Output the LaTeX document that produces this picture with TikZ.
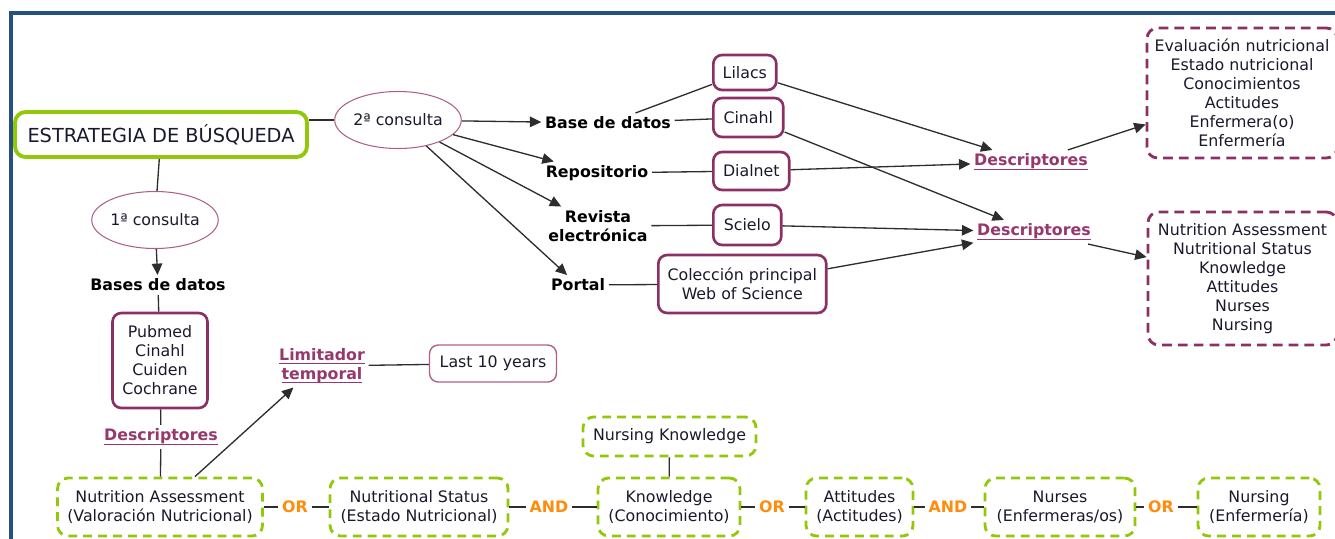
\documentclass[tikz,border=0pt]{standalone}
\usepackage{fontspec}
\setmainfont{DejaVu Sans}
\usetikzlibrary{shapes, positioning, arrows.meta}

\definecolor{limegr}{RGB}{146,200,10}
\definecolor{mauve}{RGB}{140,48,100}
\definecolor{mauvelt}{RGB}{175,95,135}
\definecolor{mauvetxt}{RGB}{150,55,110}
\definecolor{orangeop}{RGB}{255,140,10}
\definecolor{frameblue}{RGB}{40,80,125}
\definecolor{linegr}{RGB}{45,45,45}
\definecolor{txt}{RGB}{25,25,45}

% underline that sits close to the baseline
\newcommand{\linkul}[1]{\underline{\raisebox{0pt}[\height][0.5pt]{#1}}}

\begin{document}
\begin{tikzpicture}[
    x=0.02cm, y=-0.02cm,
    base/.style={
        font=\fontsize{9}{10.8}\selectfont,
        text=txt,
        align=center
    },
    main/.style={
        base,
        rectangle,
        draw=limegr,
        line width=2.2pt,
        rounded corners=6pt,
        minimum width=5.84cm,
        minimum height=0.9cm,
        font=\fontsize{11}{13}\selectfont
    },
    query/.style={
        base,
        ellipse,
        draw=mauvelt,
        line width=0.6pt,
        minimum width=2.3cm,
        minimum height=1.14cm,
        inner sep=0pt
    },
    label_bold/.style={
        base,
        font=\fontsize{9}{10.8}\selectfont\bfseries,
        text=black,
        inner sep=2pt
    },
    desc/.style={
        label_bold,
        text=mauvetxt
    },
    source/.style={
        base,
        rectangle,
        draw=mauve,
        line width=1.5pt,
        rounded corners=5pt,
        anchor=west,
        minimum height=0.7cm
    },
    years/.style={
        base,
        rectangle,
        draw=mauvelt,
        line width=0.8pt,
        rounded corners=5pt,
        minimum width=2.54cm,
        minimum height=0.74cm
    },
    terms/.style={
        base,
        rectangle,
        draw=mauve,
        line width=1.6pt,
        dash pattern=on 5.5pt off 3.5pt,
        rounded corners=6pt
    },
    kw/.style={
        base,
        rectangle,
        draw=limegr,
        line width=1.6pt,
        dash pattern=on 5pt off 3.5pt,
        rounded corners=6pt,
        minimum height=1.16cm
    },
    op/.style={
        font=\fontsize{9}{10.8}\selectfont\bfseries,
        text=orangeop,
        inner sep=2pt
    },
    link/.style={draw=linegr, line width=0.75pt},
    arr/.style={link, -{Triangle[length=6.5pt, width=6pt]}},
    frame/.style={draw=frameblue, line width=2pt}
]

    \useasboundingbox (0,0) rectangle (1335,538);

    % Frame
    \draw[frame] (11,540) -- (11,13) -- (1337,13);

    % Main topic and queries
    \node[main] (estr) at (161,134.5) {ESTRATEGIA DE BÚSQUEDA};
    \node[query] (q2) at (398,120) {2ª consulta};
    \node[query] (q1) at (155,220) {1ª consulta};

    % First query
    \node[label_bold] (bases) at (158,285) {Bases de datos};
    \node[source, anchor=center, minimum width=1.9cm, minimum height=1.9cm] (pubmed) at (160,360.5) {Pubmed\\Cinahl\\Cuiden\\Cochrane};
    \node[desc] (desc0) at (161,437) {\linkul{Descriptores}};
    \node[desc] (limit) at (322,366) {\linkul{Limitador}\\\linkul{temporal}};
    \node[years] (last) at (493,363.5) {Last 10 years};

    % Second query
    \node[label_bold] (bdt) at (608,123) {Base de datos};
    \node[label_bold] (repo) at (597,173) {Repositorio};
    \node[label_bold] (revista) at (598,226) {Revista\\electrónica};
    \node[label_bold] (portal) at (578,285) {Portal};

    \node[source, minimum width=1.26cm] (lilacs) at (712,72.5) {Lilacs};
    \node[source, minimum width=1.4cm, minimum height=0.78cm] (cinahl) at (712,117.5) {Cinahl};
    \node[source, minimum width=1.52cm, minimum height=0.76cm] (dialnet) at (712,171) {Dialnet};
    \node[source, minimum width=1.36cm, minimum height=0.8cm] (scielo) at (712,225) {Scielo};
    \node[source, minimum width=3.36cm, minimum height=1.16cm] (wos) at (657,284) {Colección principal\\Web of Science};

    \node[desc] (desc1) at (1031,162) {\linkul{Descriptores}};
    \node[desc] (desc2) at (1034,232) {\linkul{Descriptores}};

    \node[terms, minimum width=3.8cm, minimum height=2.6cm] (es) at (1242,93) {Evaluación nutricional\\Estado nutricional\\Conocimientos\\Actitudes\\Enfermera(o)\\Enfermería};
    \node[terms, minimum width=3.78cm, minimum height=2.66cm] (en) at (1242.5,278.5) {Nutrition Assessment\\Nutritional Status\\Knowledge\\Attitudes\\Nurses\\Nursing};

    % Search terms
    \node[kw, minimum width=4.1cm] (na) at (160,507) {Nutrition Assessment\\(Valoración Nutricional)};
    \node[kw, minimum width=3.56cm] (ns) at (419,507) {Nutritional Status\\(Estado Nutricional)};
    \node[kw, minimum width=2.84cm] (kn) at (669,507) {Knowledge\\(Conocimiento)};
    \node[kw, minimum width=2.14cm] (att) at (859.5,507) {Attitudes\\(Actitudes)};
    \node[kw, minimum width=3.0cm] (nur) at (1060,507) {Nurses\\(Enfermeras/os)};
    \node[kw, minimum width=2.44cm] (nsg) at (1259,507) {Nursing\\(Enfermería)};
    \node[kw, minimum width=3.46cm, minimum height=0.78cm] (nk) at (669.5,436.5) {Nursing Knowledge};

    % Operators
    \node[op] (or1) at (295,507) {OR};
    \node[op] (and1) at (549,507) {AND};
    \node[op] (or2) at (772,507) {OR};
    \node[op] (and2) at (948,507) {AND};
    \node[op] (or3) at (1161,507) {OR};

    % Connectors, first query
    \draw[link] (q2.west -| estr.east) -- (q2.west);
    \draw[link] (estr) -- (q1);
    \draw[arr] (q1) -- (bases);
    \draw[link] (bases) -- (pubmed);
    \draw[link] (pubmed) -- (desc0);
    \draw[link] (desc0) -- (na);
    \draw[arr] (na.41) -- (limit.217);
    \draw[link] (limit) -- (last);

    % Connectors, second query
    \draw[arr] (q2) -- (bdt);
    \draw[arr] (q2) -- (repo);
    \draw[arr] (q2) -- (revista);
    \draw[arr] (q2) -- (portal);
    \draw[link] (bdt.20) -- (lilacs.200);
    \draw[link] (bdt) -- (cinahl);
    \draw[link] (repo) -- (dialnet);
    \draw[link] (revista) -- (scielo);
    \draw[link] (portal) -- (wos);
    \draw[arr] (lilacs) -- (desc1);
    \draw[arr] (dialnet) -- (desc1);
    \draw[arr] (cinahl) -- (desc2);
    \draw[arr] (scielo) -- (desc2);
    \draw[arr] (wos) -- (desc2);
    \draw[arr] (desc1) -- (es);
    \draw[arr] (desc2) -- (en);

    % Connectors, search terms
    \draw[link] (na) -- (or1);
    \draw[link] (or1) -- (ns);
    \draw[link] (ns) -- (and1);
    \draw[link] (and1) -- (kn);
    \draw[link] (kn) -- (or2);
    \draw[link] (or2) -- (att);
    \draw[link] (att) -- (and2);
    \draw[link] (and2) -- (nur);
    \draw[link] (nur) -- (or3);
    \draw[link] (or3) -- (nsg);
    \draw[link] (nk) -- (kn);

\end{tikzpicture}
\end{document}
